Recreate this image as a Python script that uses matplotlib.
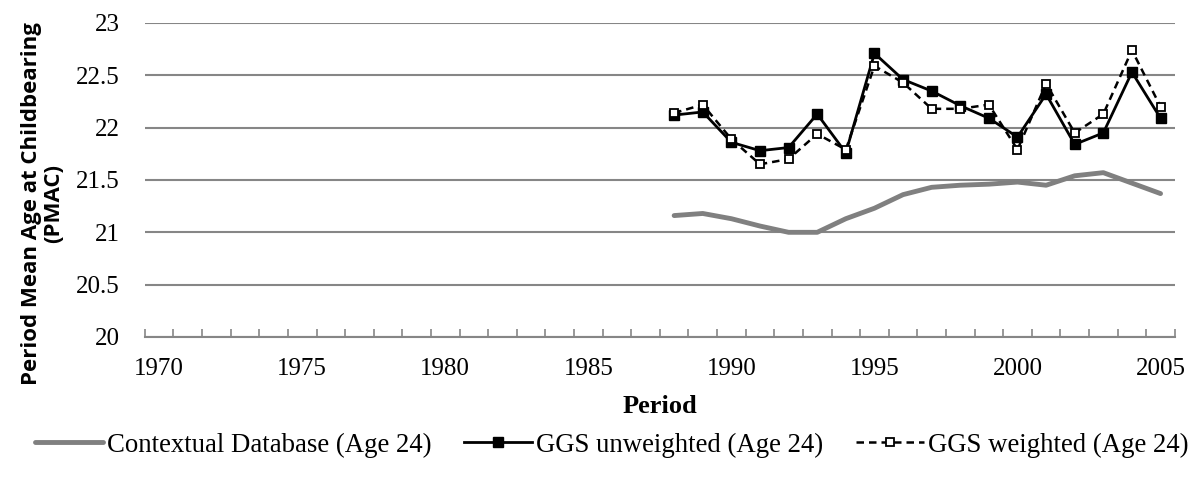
import matplotlib
matplotlib.use("Agg")
from matplotlib import pyplot as plt
import numpy as np

years = list(range(1988, 2006))
contextual = [21.16, 21.18, 21.13, 21.06, 21.00, 21.00, 21.13, 21.23, 21.36, 21.43,
              21.45, 21.46, 21.48, 21.45, 21.54, 21.57, 21.47, 21.37]
ggs_unweighted = [22.12, 22.15, 21.86, 21.78, 21.81, 22.13, 21.76, 22.71, 22.46, 22.35,
                  22.21, 22.09, 21.91, 22.32, 21.84, 21.95, 22.53, 22.09]
ggs_weighted = [22.14, 22.22, 21.89, 21.65, 21.70, 21.94, 21.79, 22.59, 22.43, 22.18,
                22.18, 22.22, 21.79, 22.42, 21.95, 22.13, 22.74, 22.20]
year_labels = [1970, 1975, 1980, 1985, 1990, 1995, 2000, 2005]
y_ticks = [20, 20.5, 21, 21.5, 22, 22.5, 23]

serif = "Liberation Serif"
grey = "#868686"

fig = plt.figure(figsize=(11.97, 4.79), dpi=100)
ax = fig.add_axes([0.121, 0.2965, 0.8605, 0.6555])

ax.plot(years, contextual, color="#808080", lw=3.5, solid_capstyle="round",
        label="Contextual Database (Age 24)", zorder=3)
ax.plot(years, ggs_unweighted, color="black", lw=2, marker="s", ms=6.5,
        mfc="black", mec="black", label="GGS unweighted (Age 24)", zorder=4)
ax.plot(years, ggs_weighted, color="black", lw=1.8, ls=(0, (3, 2)), marker="s", ms=6,
        mfc="white", mec="black", mew=1.3, label="GGS weighted (Age 24)", zorder=5)

ax.set_xlim(1969.5, 2005.5)
ax.set_ylim(20, 23)
ax.set_yticks(y_ticks)
ax.set_yticklabels(["%g" % v for v in y_ticks], fontfamily=serif, fontsize=18)
ax.set_xticks(year_labels)
ax.set_xticklabels([str(y) for y in year_labels], fontfamily=serif, fontsize=18)
ax.set_xticks(np.arange(1969.5, 2006, 1), minor=True)
ax.tick_params(axis="x", which="major", length=0, pad=15)
ax.tick_params(axis="x", which="minor", direction="in", length=6, width=1.2, color=grey)
ax.tick_params(axis="y", length=0, pad=18)

ax.grid(axis="y", color=grey, lw=1.5)
ax.set_axisbelow(True)
for side in ["left", "right", "top"]:
    ax.spines[side].set_visible(False)
ax.spines["bottom"].set_color(grey)
ax.spines["bottom"].set_linewidth(1.5)

ax.set_xlabel("Period", fontfamily=serif, fontsize=19, fontweight="bold", labelpad=11)
ax.set_ylabel("Period Mean Age at Childbearing\n(PMAC)", fontfamily="Open Sans",
              fontsize=16, fontweight="bold", linespacing=1.1)
ax.yaxis.set_label_coords(-0.078, 0.424)

fig.legend(loc="center", bbox_to_anchor=(0.511, 0.071), ncol=3, frameon=False,
           prop={"family": serif, "size": 19.3}, handlelength=2.55, columnspacing=1.2,
           handletextpad=0.15)

fig.savefig("out.png", dpi=100)
